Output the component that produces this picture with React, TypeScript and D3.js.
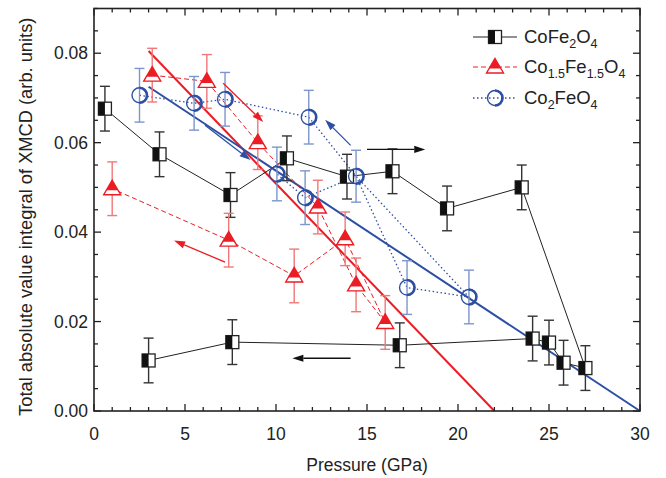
import React from 'react'
import * as d3 from 'd3'

// CoFe2O4 (black half-filled squares), in measurement order
const coP = [0.6, 3.6, 7.5, 10.6, 13.9, 16.4, 19.4, 23.5, 27.0, 25.8, 25.0, 24.1, 16.8, 7.6, 3.0]
const coV = [0.0676, 0.0574, 0.0483, 0.0565, 0.0524, 0.0536, 0.0453, 0.0500, 0.0096, 0.0108, 0.0153, 0.0162, 0.0147, 0.0154, 0.0113]
const coErr = [0.005, 0.005, 0.005, 0.005, 0.005, 0.005, 0.005, 0.005, 0.005, 0.005, 0.005, 0.005, 0.005, 0.005, 0.005]

// Co1.5Fe1.5O4 (red triangles)
const midP = [3.2, 6.2, 9.0, 12.3, 13.8, 14.4, 16.0, 11.0, 7.4, 1.0]
const midV = [0.0751, 0.0737, 0.0600, 0.0456, 0.0385, 0.0282, 0.0198, 0.0302, 0.0382, 0.0497]
const midErr = [0.006, 0.006, 0.006, 0.006, 0.006, 0.006, 0.006, 0.006, 0.006, 0.006]
const midOrder = [0, 1, 2, 3, 5, 6, 4, 7, 8, 9]

// Co2FeO4 (blue circles)
const feP = [2.5, 5.5, 7.2, 11.8, 14.4, 17.2, 20.6, 11.6, 10.05]
const feV = [0.0706, 0.0688, 0.0697, 0.0657, 0.0525, 0.0276, 0.0255, 0.0477, 0.0530]
const feErr = [0.006, 0.006, 0.006, 0.006, 0.0058, 0.006, 0.006, 0.006, 0.006]
const feOrder = [0, 1, 2, 3, 4, 5, 6, 4, 7, 8]

// linear guides
const redFit = [[3.0, 0.0805], [22.0, 0]]
const blueFit = [[3.0, 0.0725], [30.0, 0]]

// arrows [x1, y1, x2, y2, colour]
const arrows: [number, number, number, number, string][] = [
  [15.0, 0.0585, 18.2, 0.0585, '#111'],
  [14.1, 0.0118, 10.9, 0.0118, '#111'],
  [7.1, 0.0733, 9.3, 0.0646, '#ec1c24'],
  [7.2, 0.0333, 4.4, 0.0381, '#ec1c24'],
  [6.1, 0.0639, 8.6, 0.0561, '#2d4fa3'],
  [14.1, 0.0594, 12.7, 0.0651, '#2d4fa3'],
]

const xTicks = [0, 5, 10, 15, 20, 25, 30]
const yTicks = [0, 0.02, 0.04, 0.06, 0.08]

const RED = '#ec1c24'
const BLUE = '#2d4fa3'
const FONT = '"Liberation Sans", Arial, sans-serif'

const x = d3.scaleLinear().domain([0, 30]).range([94, 640])
const y = d3.scaleLinear().domain([0, 0.09]).range([411, 8.5])

function Square({ cx, cy }: { cx: number; cy: number }) {
  const h = 6.5
  return (
    <g>
      <rect x={cx - h} y={cy - h} width={2 * h} height={2 * h} fill="#fff" stroke="#222" strokeWidth={1.3} />
      <rect x={cx - h} y={cy - h} width={h} height={2 * h} fill="#111" />
    </g>
  )
}

function Tri({ cx, cy }: { cx: number; cy: number }) {
  const w = 8.5
  const top = cy - 8.5
  const base = cy + 6
  const cut = cy + 1.5
  const t = (cut - top) / (base - top)
  return (
    <g>
      <path d={`M${cx},${top}L${cx + w},${base}L${cx - w},${base}Z`} fill="#fff" stroke={RED} strokeWidth={1.4} />
      <path d={`M${cx},${top}L${cx + w * t},${cut}L${cx - w * t},${cut}Z`} fill={RED} />
    </g>
  )
}

function Circ({ cx, cy }: { cx: number; cy: number }) {
  const r = 7.5
  return (
    <g fill="none" stroke={BLUE}>
      <circle cx={cx} cy={cy} r={r} strokeWidth={1.4} />
      <path d={`M${cx},${cy - r}A${r},${r} 0 0 1 ${cx},${cy + r}`} strokeWidth={2.6} />
    </g>
  )
}

function ErrBar({ px, v, e, color }: { px: number; v: number; e: number; color: string }) {
  const y1 = y(v + e)
  const y2 = y(v - e)
  return (
    <g stroke={color} strokeWidth={1.4}>
      <line x1={px} x2={px} y1={y1} y2={y2} />
      <line x1={px - 5} x2={px + 5} y1={y1} y2={y1} />
      <line x1={px - 5} x2={px + 5} y1={y2} y2={y2} />
    </g>
  )
}

function Arrow({ a }: { a: [number, number, number, number, string] }) {
  const [p1, v1, p2, v2, c] = a
  const x1 = x(p1), y1 = y(v1), x2 = x(p2), y2 = y(v2)
  const ang = Math.atan2(y2 - y1, x2 - x1)
  const L = 11, W = 3.6
  const bx = x2 - L * Math.cos(ang), by = y2 - L * Math.sin(ang)
  const nx = -Math.sin(ang) * W, ny = Math.cos(ang) * W
  return (
    <g>
      <line x1={x1} y1={y1} x2={bx} y2={by} stroke={c} strokeWidth={1.3} />
      <path d={`M${x2},${y2}L${bx + nx},${by + ny}L${bx - nx},${by - ny}Z`} fill={c} />
    </g>
  )
}

export default function App() {
  const line = d3.line<number[]>().x(d => x(d[0])).y(d => y(d[1]))
  const coPts = coP.map((p, i) => [p, coV[i]])
  const midPts = midOrder.map(i => [midP[i], midV[i]])
  const fePts = feOrder.map(i => [feP[i], feV[i]])
  const minorX = d3.range(0, 31, 1)
  const minorY = d3.range(0, 0.0901, 0.005)
  const [L, R] = x.range()
  const [B, T] = y.range()

  const legendRows = [
    { yy: 37, kind: 'co' },
    { yy: 67, kind: 'mid' },
    { yy: 98, kind: 'fe' },
  ]

  return (
    <svg width={666} height={478} style={{ position: 'absolute', left: 0, top: 0, background: '#fff' }} fontFamily={FONT}>
      {/* fit lines */}
      <path d={line(redFit) || ''} stroke={RED} strokeWidth={2} fill="none" />
      <path d={line(blueFit) || ''} stroke={BLUE} strokeWidth={2} fill="none" />

      {/* connecting lines */}
      <path d={line(coPts) || ''} stroke="#222" strokeWidth={1} fill="none" />
      <path d={line(midPts) || ''} stroke={RED} strokeWidth={1} strokeDasharray="5,3" fill="none" />
      <path d={line(fePts) || ''} stroke={BLUE} strokeWidth={1.3} strokeDasharray="1.5,2.5" fill="none" />

      {/* error bars */}
      {coP.map((p, i) => <ErrBar key={'ce' + i} px={x(p)} v={coV[i]} e={coErr[i]} color="#333" />)}
      {midP.map((p, i) => <ErrBar key={'me' + i} px={x(p)} v={midV[i]} e={midErr[i]} color="#f07878" />)}
      {feP.map((p, i) => <ErrBar key={'fe' + i} px={x(p)} v={feV[i]} e={feErr[i]} color="#7d95cc" />)}

      {/* markers */}
      {coP.map((p, i) => <Square key={'cm' + i} cx={x(p)} cy={y(coV[i])} />)}
      {midP.map((p, i) => <Tri key={'mm' + i} cx={x(p)} cy={y(midV[i])} />)}
      {feP.map((p, i) => <Circ key={'fm' + i} cx={x(p)} cy={y(feV[i])} />)}

      {arrows.map((a, i) => <Arrow key={'a' + i} a={a} />)}

      {/* frame and ticks */}
      <rect x={L} y={T} width={R - L} height={B - T} fill="none" stroke="#222" strokeWidth={1.6} />
      {minorX.map(t => {
        const big = t % 5 === 0
        const len = big ? 7 : 4
        return (
          <g key={'xt' + t} stroke="#222" strokeWidth={1.3}>
            <line x1={x(t)} x2={x(t)} y1={B} y2={B - len} />
            <line x1={x(t)} x2={x(t)} y1={T} y2={T + len} />
          </g>
        )
      })}
      {minorY.map((t, i) => {
        const big = i % 4 === 0
        const len = big ? 7 : 4
        return (
          <g key={'yt' + i} stroke="#222" strokeWidth={1.3}>
            <line x1={L} x2={L + len} y1={y(t)} y2={y(t)} />
            <line x1={R} x2={R - len} y1={y(t)} y2={y(t)} />
          </g>
        )
      })}
      {xTicks.map(t => (
        <text key={'xl' + t} x={x(t)} y={440} textAnchor="middle" fontSize={17.5} fill="#222">{t}</text>
      ))}
      {yTicks.map(t => (
        <text key={'yl' + t} x={88} y={y(t) + 6} textAnchor="end" fontSize={17.5} fill="#222">{t.toFixed(2)}</text>
      ))}
      <text x={(L + R) / 2} y={471} textAnchor="middle" fontSize={17.5} fill="#222">Pressure (GPa)</text>
      <text transform={`translate(32,${(B + T) / 2 + 7}) rotate(-90)`} textAnchor="middle" fontSize={18.3} fill="#222">
        Total absolute value integral of XMCD (arb. units)
      </text>

      {/* legend */}
      {legendRows.map(r => (
        <g key={r.kind}>
          <line x1={473} x2={517} y1={r.yy} y2={r.yy}
            stroke={r.kind === 'co' ? '#222' : r.kind === 'mid' ? RED : BLUE}
            strokeWidth={r.kind === 'fe' ? 1.3 : 1}
            strokeDasharray={r.kind === 'mid' ? '5,3' : r.kind === 'fe' ? '1.5,2.5' : undefined} />
          {r.kind === 'co' && <Square cx={495} cy={r.yy} />}
          {r.kind === 'mid' && <Tri cx={495} cy={r.yy} />}
          {r.kind === 'fe' && <Circ cx={495} cy={r.yy} />}
        </g>
      ))}
      <text x={524} y={43} fontSize={18.5} fill="#222">
        CoFe<tspan fontSize={12.5} dy={5}>2</tspan><tspan dy={-5}>O</tspan><tspan fontSize={12.5} dy={5}>4</tspan>
      </text>
      <text x={524} y={73} fontSize={18.5} fill="#222">
        Co<tspan fontSize={12.5} dy={5}>1.5</tspan><tspan dy={-5}>Fe</tspan><tspan fontSize={12.5} dy={5}>1.5</tspan><tspan dy={-5}>O</tspan><tspan fontSize={12.5} dy={5}>4</tspan>
      </text>
      <text x={524} y={104} fontSize={18.5} fill="#222">
        Co<tspan fontSize={12.5} dy={5}>2</tspan><tspan dy={-5}>FeO</tspan><tspan fontSize={12.5} dy={5}>4</tspan>
      </text>
    </svg>
  )
}
